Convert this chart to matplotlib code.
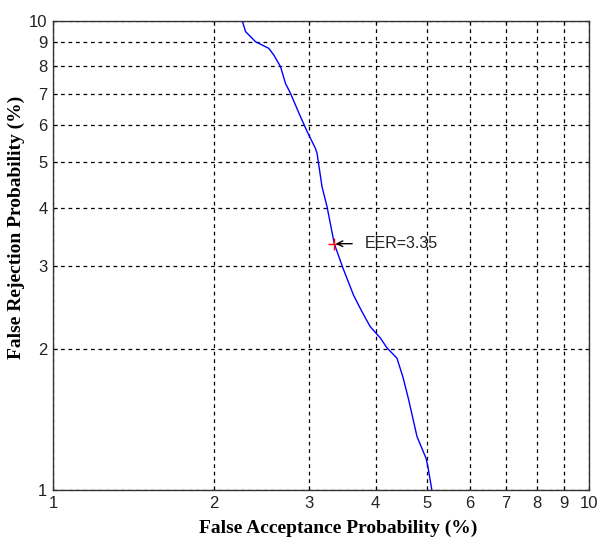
import matplotlib
matplotlib.use('Agg')
import matplotlib.pyplot as plt

# DET curve (percent)
far = [2.256, 2.288, 2.388, 2.528, 2.583, 2.659, 2.716, 2.775, 2.888, 2.981,
       3.089, 3.111, 3.178, 3.247, 3.35, 3.478, 3.64, 3.773, 3.909, 4.082,
       4.20, 4.385, 4.50, 4.61, 4.78, 4.97, 5.01, 5.095]
frr = [10.0, 9.49, 9.03, 8.74, 8.46, 7.99, 7.36, 7.01, 6.30, 5.81,
       5.35, 5.22, 4.43, 4.02, 3.35, 2.97, 2.60, 2.40, 2.23, 2.11,
       2.01, 1.91, 1.74, 1.56, 1.30, 1.168, 1.12, 1.0]
eer = 3.35
ticks = [1, 2, 3, 4, 5, 6, 7, 8, 9, 10]

fig = plt.figure(figsize=(6.02, 5.41), dpi=100)
ax = fig.add_axes([0.088, 0.0943, 0.89, 0.867])

ax.plot(far, frr, color='blue', lw=1)
ax.plot([eer], [eer], marker='+', color='red', ms=9, mew=1)
# arrow pointing at the EER point, label a bit to the right
ax.annotate('', xy=(eer, eer), xytext=(eer * 1.08, eer),
            arrowprops=dict(arrowstyle='->', color='black', lw=1,
                            shrinkA=0, shrinkB=1))
ax.text(eer * 1.14, eer, 'EER=3.35', va='center', ha='left', fontsize=11.5,
        family='Liberation Sans', color='#222222')

ax.set_xscale('log')
ax.set_yscale('log')
ax.set_xlim(1, 10)
ax.set_ylim(1, 10)
ax.set_xticks(ticks)
ax.set_yticks(ticks)
ax.set_xticklabels([str(t) for t in ticks])
ax.set_yticklabels([str(t) for t in ticks])
ax.minorticks_off()
ax.tick_params(direction='in', top=True, right=True, length=3, width=0.8,
               labelsize=12, pad=4, labelcolor='#222222')
for lab in ax.get_xticklabels() + ax.get_yticklabels():
    lab.set_family('Liberation Sans')

ax.grid(True, which='major', color='black', linestyle=(0, (3, 3)), lw=0.9)
for s in ax.spines.values():
    s.set_linewidth(1)
    s.set_color('#333333')

ax.set_xlabel('False Acceptance Probability (%)', family='Liberation Serif',
              fontweight='bold', fontsize=14, va='center')
ax.set_ylabel('False Rejection Probability (%)', family='Liberation Serif',
              fontweight='bold', fontsize=14, va='center')
ax.xaxis.set_label_coords(0.532, -0.082)
ax.yaxis.set_label_coords(-0.069, 0.559)

plt.savefig('out.png', dpi=100)
